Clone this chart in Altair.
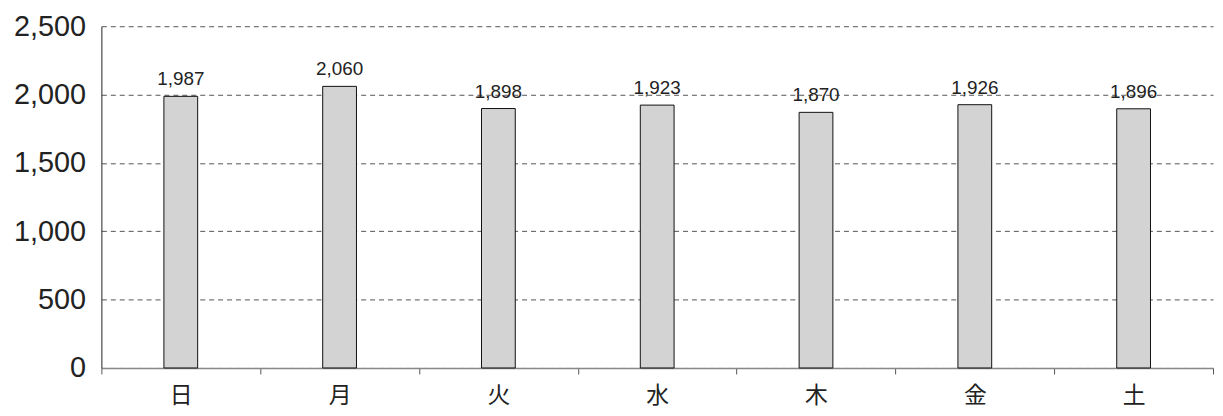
import altair as alt
import pandas as pd

days = ["日", "月", "火", "水", "木", "金", "土"]
values = [1987, 2060, 1898, 1923, 1870, 1926, 1896]

df = pd.DataFrame({"day": days, "value": values})

x = alt.X("day:N", sort=days, title=None,
          scale=alt.Scale(paddingInner=0, paddingOuter=0),
          axis=alt.Axis(labelAngle=0, labelFont="Noto Sans CJK JP", labelFontSize=23,
                        labelColor="#222222", labelPadding=11, tickBand="extent",
                        domainColor="#888888", tickColor="#555555", tickSize=6,
                        domainWidth=1.5, grid=False))
y = alt.Y("value:Q", title=None,
          scale=alt.Scale(domain=[0, 2500], nice=False),
          axis=alt.Axis(values=[0, 500, 1000, 1500, 2000, 2500], format=",.0f",
                        labelFont="Liberation Sans", labelFontSize=29, labelColor="#222222",
                        labelPadding=16, ticks=False, domainColor="#222222",
                        gridColor="#555555", gridDash=[5, 4], gridWidth=1))

base = alt.Chart(df)
bars = base.mark_bar(size=34, fill="#d3d3d3", stroke="#111111", strokeWidth=1).encode(x=x, y=y)
labels = base.mark_text(dy=-17, fontSize=19, font="Liberation Sans", color="#222222").encode(
    x=alt.X("day:N", sort=days), y="value:Q", text=alt.Text("value:Q", format=",.0f"))

chart = (bars + labels).properties(
    width=1119, height=344,
    autosize=alt.AutoSizeParams(type="none"),
    padding={"left": 94, "top": 17, "right": 2, "bottom": 46},
).configure_view(stroke=None)

chart.save("out.html", embed_options={"renderer": "svg", "actions": False})
